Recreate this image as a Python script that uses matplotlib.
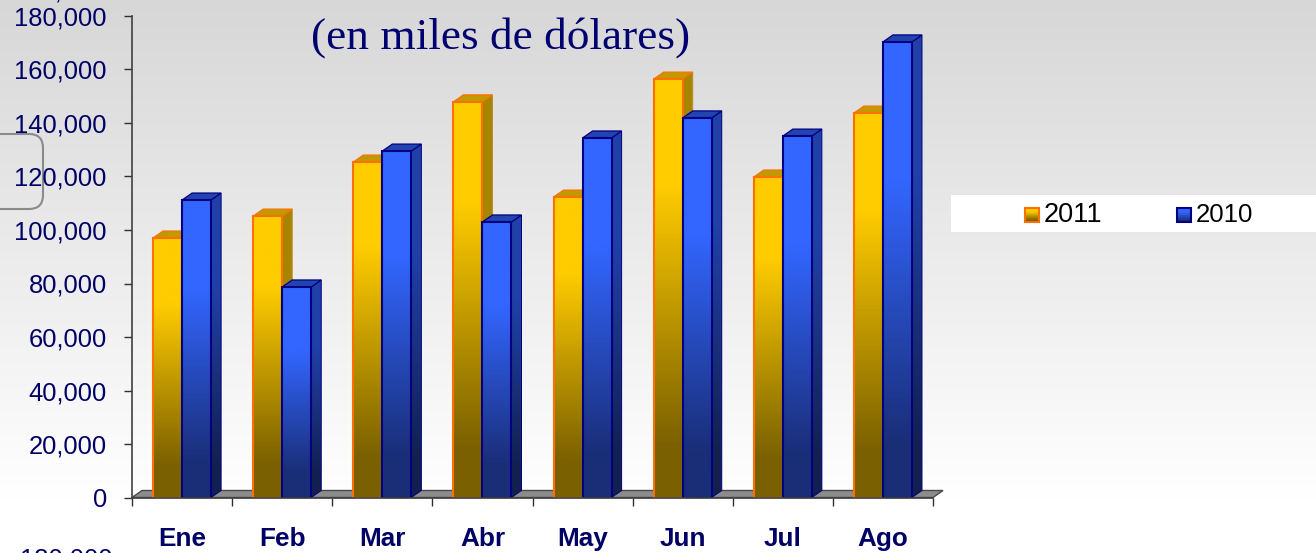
import numpy as np
import matplotlib
matplotlib.use('Agg')
import matplotlib.pyplot as plt
from matplotlib.colors import LinearSegmentedColormap
from matplotlib.patches import Polygon, Rectangle, FancyBboxPatch

meses = ['Ene', 'Feb', 'Mar', 'Abr', 'May', 'Jun', 'Jul', 'Ago']
valores_2011 = [97000, 105200, 125400, 147900, 112300, 156400, 119800, 143700]
valores_2010 = [111200, 78700, 129500, 103000, 134400, 141900, 135100, 170300]
y_ticks = [0, 20000, 40000, 60000, 80000, 100000, 120000, 140000, 160000, 180000]

W, H = 1316, 553
NAVY = '#000066'
plt.rcParams['font.family'] = ['Liberation Sans', 'DejaVu Sans']

fig = plt.figure(figsize=(W / 100, H / 100), dpi=100)

# fondo, en pixeles
bg = fig.add_axes([0, 0, 1, 1])
fondo = LinearSegmentedColormap.from_list('fondo', ['#d7d7d7', '#ffffff'])
bg.imshow(np.linspace(0, 1, 256).reshape(-1, 1), cmap=fondo, aspect='auto', extent=[0, W, 500, 0])
bg.set_xlim(0, W)
bg.set_ylim(H, 0)
bg.axis('off')

# recuadro redondeado que asoma a la izquierda
bg.add_patch(FancyBboxPatch((-40, 134), 83, 75, boxstyle='round,pad=0,rounding_size=14',
                            fc='none', ec='#8a8a8a', lw=1.5))

# caja de la leyenda
bg.add_patch(Rectangle((951, 195), 365, 37, fc='white', ec='none'))


def swatch(x, cmap, borde):
    bg.imshow(np.linspace(0, 1, 32).reshape(-1, 1), cmap=cmap, aspect='auto',
              extent=[x, x + 14, 222, 208], zorder=3)
    bg.add_patch(Rectangle((x, 208), 14, 14, fc='none', ec=borde, lw=1.5, zorder=4))
    bg.set_xlim(0, W)
    bg.set_ylim(H, 0)


# grafico
ax = fig.add_axes([132 / W, 1 - 497.5 / H, 801 / W, 481.5 / H])
ax.patch.set_alpha(0)
dx = 0.1
dy = 7 * 180000 / 481.5
ancho = 0.29

amarillo = LinearSegmentedColormap.from_list(
    'am', [(0, '#ffcc00'), (0.25, '#ffcc00'), (0.88, '#7a6000'), (1, '#7a6000')])
amarillo_lado = LinearSegmentedColormap.from_list(
    'am2', [(0, '#a68500'), (0.3, '#a68500'), (0.9, '#4f3f00'), (1, '#4f3f00')])
azul = LinearSegmentedColormap.from_list(
    'az', [(0, '#3366ff'), (0.3, '#3366ff'), (0.88, '#1a2e78'), (1, '#1a2e78')])
azul_lado = LinearSegmentedColormap.from_list(
    'az2', [(0, '#2040a8'), (0.3, '#2040a8'), (0.9, '#11204f'), (1, '#11204f')])


def gradiente(poly, x0, x1, y_top, cmap, z):
    ax.add_patch(poly)
    im = ax.imshow(np.linspace(0, 1, 128).reshape(-1, 1), cmap=cmap, aspect='auto',
                   extent=[x0, x1, 0, y_top], zorder=z)
    im.set_clip_path(poly)


def barra(x, v, cmap, cmap_lado, tapa, borde, borde_lado, z):
    lado = Polygon([(x + ancho, 0), (x + ancho + dx, dy), (x + ancho + dx, v + dy), (x + ancho, v)],
                   closed=True, fc='none', ec=borde_lado, lw=0.7, zorder=z + 0.2)
    gradiente(lado, x + ancho, x + ancho + dx, v + dy, cmap_lado, z)
    ax.add_patch(Polygon([(x, v), (x + dx, v + dy), (x + ancho + dx, v + dy), (x + ancho, v)],
                         closed=True, fc=tapa, ec=borde, lw=0.9, zorder=z + 0.2))
    frente = Rectangle((x, 0), ancho, v, fc='none', ec=borde, lw=1.5, zorder=z + 0.4)
    gradiente(frente, x, x + ancho, v, cmap, z + 0.3)


# piso
ax.add_patch(Polygon([(0, 0), (dx, dy), (8 + dx, dy), (8, 0)], closed=True,
                     fc='#8c8c8c', ec='#4a4a4a', lw=1, zorder=1, clip_on=False))

for i in range(len(meses)):
    barra(i + 0.21, valores_2011[i], amarillo, amarillo_lado, '#c09a00', '#ff7000', '#c08a20', 2 + i * 2)
    barra(i + 0.50, valores_2010[i], azul, azul_lado, '#2244b0', '#000080', '#000080', 3 + i * 2)

ax.set_xlim(0, 8)
ax.set_ylim(0, 180000)
for s in ['top', 'right']:
    ax.spines[s].set_visible(False)
for s in ['left', 'bottom']:
    ax.spines[s].set_color('#404040')
    ax.spines[s].set_linewidth(1.2)
    ax.spines[s].set_zorder(40)

ax.set_yticks(y_ticks)
ax.set_yticklabels([f'{v:,}' for v in y_ticks], fontsize=18.4, color=NAVY)
ax.tick_params(axis='y', length=5.8, width=1, color='#303030', pad=12.3)
ax.set_xticks(np.arange(9))
ax.set_xticklabels([''] * 9)
ax.tick_params(axis='x', length=5.8, width=1, color='#303030')
for i, m in enumerate(meses):
    ax.annotate(m, (i + 0.5, 0), xytext=(0, -539 + 497.5), textcoords='offset pixels',
                ha='center', va='center', fontsize=18.8, fontweight='bold', color=NAVY,
                annotation_clip=False)

# leyenda
swatch(1025, amarillo, '#ff7000')
swatch(1177, azul, '#000080')
bg.text(1044, 215.5, '2011', fontsize=19.5, color='black', va='center', ha='left', zorder=5)
bg.text(1196, 215.5, '2010', fontsize=18.6, color='black', va='center', ha='left', zorder=5)

# titulo y textos cortados por el borde
fig.text(311 / W, 1 - 38 / H, '(en miles de dólares)', fontsize=32.7, color='#000070',
         family=['Liberation Serif', 'DejaVu Serif'], va='center', ha='left')
bg.text(20, 559, '180,000', fontsize=18.4, color=NAVY, va='center', ha='left', clip_on=True)
bg.text(12, -1, '180,000', fontsize=18.4, color=NAVY, va='baseline', ha='left', clip_on=True)

fig.savefig('out.png', dpi=100)
